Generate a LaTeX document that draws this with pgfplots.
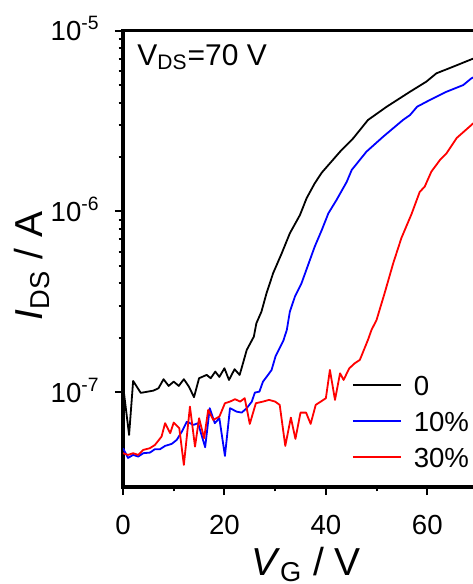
\documentclass[border=0pt]{standalone}
\usepackage{fontspec}
\setmainfont{Liberation Sans}
\usepackage{pgfplots}
\usepackage{pgfplotstable}
\pgfplotsset{compat=1.18}

\pgfplotstableread{
x y
0 1.10e-7
1.2 5.82e-8
2 1.157e-7
3.5 9.94e-8
6 1.023e-7
7 1.055e-7
8 1.183e-7
9 1.086e-7
10 1.147e-7
11 1.086e-7
12 1.183e-7
13 1.076e-7
14 9.41e-8
15 1.198e-7
16.5 1.249e-7
17.3 1.198e-7
18.2 1.303e-7
19 1.218e-7
20 1.360e-7
20.9 1.172e-7
22 1.343e-7
23 1.249e-7
23.4 1.366e-7
24.4 1.717e-7
25.8 2.033e-7
26.3 2.411e-7
27.3 2.795e-7
28.3 3.533e-7
29.6 4.556e-7
31.3 5.875e-7
32.9 7.577e-7
34.9 9.566e-7
36.2 1.183e-6
37.8 1.430e-6
39.2 1.640e-6
40.8 1.846e-6
42.8 2.140e-6
45.4 2.538e-6
48.3 3.202e-6
52.0 3.793e-6
56.6 4.590e-6
59.8 5.215e-6
61.8 5.801e-6
65.1 6.310e-6
68.7 6.933e-6
70 7.139e-6
}\tblzero

\pgfplotstableread{
x y
0 4.916e-8
1 4.345e-8
2 4.514e-8
3 4.418e-8
4 4.614e-8
5.3 4.649e-8
6.3 4.855e-8
7.3 4.855e-8
8.3 5.062e-8
9.6 5.193e-8
10.6 5.465e-8
11.6 6.071e-8
12.6 6.898e-8
13.9 6.614e-8
14.8 6.759e-8
16.2 4.979e-8
17.1 8.180e-8
18.1 6.759e-8
19.0 7.202e-8
20.1 4.458e-8
21.1 8.180e-8
22.4 7.833e-8
23.4 7.734e-8
24.4 8.180e-8
25.4 8.897e-8
26.0 9.975e-8
26.9 1.010e-7
27.6 1.147e-7
28.6 1.249e-7
29.3 1.331e-7
30.1 1.590e-7
31.6 1.925e-7
32.3 2.214e-7
32.9 2.795e-7
33.9 3.383e-7
35.2 4.011e-7
36.5 5.062e-7
37.8 6.389e-7
39.2 7.902e-7
40.5 9.772e-7
42.1 1.157e-6
44.1 1.455e-6
45.1 1.696e-6
48.0 2.140e-6
51.3 2.590e-6
55.2 3.202e-6
56.6 3.412e-6
58.0 3.793e-6
60.5 4.130e-6
63.8 4.590e-6
67.1 4.998e-6
68.7 5.444e-6
70 5.677e-6
}\tblten

\pgfplotstableread{
x y
0 4.614e-8
1 4.514e-8
2 4.614e-8
3 4.514e-8
4 4.811e-8
5.3 4.916e-8
6.3 5.127e-8
7.6 5.697e-8
8.3 6.759e-8
9.3 5.950e-8
10.0 6.810e-8
11.1 6.340e-8
12.0 3.975e-8
13.2 8.347e-8
14.2 5.018e-8
15.0 7.202e-8
16.0 5.585e-8
16.8 8.006e-8
17.8 7.048e-8
19.0 7.349e-8
20.1 8.715e-8
21.1 8.897e-8
22.1 9.171e-8
23.1 8.897e-8
24.0 9.290e-8
25.0 6.699e-8
26.2 8.715e-8
27.6 8.897e-8
28.8 9.091e-8
30.0 8.897e-8
30.9 8.530e-8
32.0 5.062e-8
33.1 7.257e-8
34.0 5.535e-8
35.0 7.734e-8
36.1 7.734e-8
37.0 6.699e-8
38.0 8.530e-8
39.2 8.975e-8
40.0 9.290e-8
40.8 1.331e-7
41.8 9.091e-8
42.8 1.276e-7
43.5 1.172e-7
44.6 1.357e-7
45.7 1.449e-7
46.7 1.512e-7
47.5 1.717e-7
48.3 1.950e-7
49.0 2.214e-7
50.0 2.515e-7
51.6 3.546e-7
53.3 5.193e-7
54.9 7.139e-7
56.9 9.687e-7
58.5 1.281e-6
59.5 1.373e-6
60.8 1.660e-6
62.5 1.925e-6
63.8 2.097e-6
65.8 2.548e-6
68.7 3.005e-6
70 3.243e-6
}\tblthirty

\begin{document}
\begin{tikzpicture}
\useasboundingbox (-61.5pt,-48.5pt) rectangle (174.5pt,243.5pt);
\begin{axis}[
  at={(0,0)}, anchor=south west,
  scale only axis, width=177.5pt, height=228.25pt,
  xmin=0, xmax=70,
  ymode=log, ymin=3e-8, ymax=1e-5,
  xtick={0,20,40,60}, xticklabels={0,20,40,60},
  minor x tick num=1,
  ytick={1e-7,1e-6,1e-5},
  yticklabels={10\textsuperscript{-7},10\textsuperscript{-6},10\textsuperscript{-5}},
  xtick pos=left, ytick pos=left,
  tick align=outside,
  major tick length=4pt, minor tick length=2.2pt,
  every tick/.style={black, line width=1pt},
  axis line style={line width=1.8pt},
  tick label style={font=\fontsize{13.8}{16}\selectfont},
  yticklabel style={anchor=base east, inner sep=0pt, xshift=-7.5pt, yshift=-4.9pt},
  xticklabel style={anchor=base, inner sep=0pt, yshift=-19.6pt},
  every axis x label/.style={at={(axis description cs:0.5155,-0.1928)}, anchor=base, inner sep=0pt},
  every axis y label/.style={at={(axis description cs:-0.2254,0.4841)}, rotate=90, anchor=base, inner sep=0pt},
  label style={font=\fontsize{19.5}{22}\selectfont},
  xlabel={\textit{V}\textsubscript{G} / V},
  ylabel={\textit{I}\textsubscript{DS} / A},
  legend cell align=left,
  legend image code/.code={\draw[#1] (0pt,0pt) -- (24pt,0pt);},
  legend style={draw=none, fill=none, inner sep=0pt, outer sep=0pt,
    at={(axis description cs:0.6451,0.0438)}, anchor=south west,
    row sep=8pt, column sep=6pt,
    font=\fontsize{13.8}{16}\selectfont,
    nodes={inner sep=0pt, text height=10pt, text depth=0pt}},
  every axis plot/.append style={line width=0.9pt, line join=round},
]
\addplot[black] table[x=x,y=y] {\tblzero};
\addlegendentry{0}
\addplot[blue] table[x=x,y=y] {\tblten};
\addlegendentry{10\%}
\addplot[red] table[x=x,y=y] {\tblthirty};
\addlegendentry{30\%}
\node[anchor=base west, inner sep=0pt, font=\fontsize{15}{18}\selectfont]
  at (axis description cs:0.0394,0.9244) {V\textsubscript{DS}=70 V};
\end{axis}
\end{tikzpicture}
\end{document}
